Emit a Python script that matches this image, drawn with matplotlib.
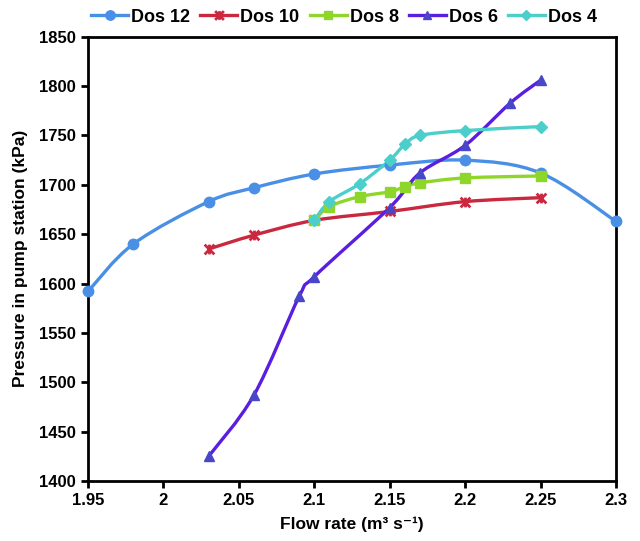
import numpy as np
import matplotlib
matplotlib.use('Agg')
import matplotlib.pyplot as plt
from matplotlib.path import Path
from matplotlib.patches import PathPatch
from matplotlib.lines import Line2D
from matplotlib.ticker import FuncFormatter, MultipleLocator

plt.rcParams['font.family'] = ['Liberation Sans', 'DejaVu Sans']
plt.rcParams['font.weight'] = 'bold'

# data (flow rate m3/s, pressure kPa)
dos12_x = [1.95, 1.98, 2.03, 2.06, 2.10, 2.15, 2.20, 2.25, 2.30]
dos12_y = [1592, 1640, 1683, 1697, 1711, 1720, 1725, 1712, 1663]

dos10_x = [2.03, 2.06, 2.10, 2.15, 2.20, 2.25]
dos10_y = [1635, 1649, 1664, 1673, 1683, 1687]

dos8_x = [2.10, 2.11, 2.13, 2.15, 2.16, 2.17, 2.20, 2.25]
dos8_y = [1664, 1678, 1688, 1693, 1698, 1702, 1707, 1709]

dos6_x = [2.03, 2.06, 2.09, 2.10, 2.15, 2.17, 2.20, 2.23, 2.25]
dos6_y = [1425, 1487, 1587, 1607, 1677, 1712, 1740, 1783, 1806]

dos4_x = [2.10, 2.11, 2.13, 2.15, 2.16, 2.17, 2.20, 2.25]
dos4_y = [1664, 1683, 1701, 1725, 1741, 1750, 1755, 1759]

# excel style star marker: an x with a vertical bar through it
star = Path([(-1, -1), (1, 1), (-1, 1), (1, -1), (0, -1), (0, 1)],
            [Path.MOVETO, Path.LINETO, Path.MOVETO, Path.LINETO,
             Path.MOVETO, Path.LINETO])

series = [
    ('Dos 12', dos12_x, dos12_y, '#4a8fe6', '#4a8fe6', 'o', 7.5),
    ('Dos 10', dos10_x, dos10_y, '#c9283e', '#c9283e', star, 7),
    ('Dos 8', dos8_x, dos8_y, '#8fd62a', '#8fd62a', 's', 7),
    ('Dos 6', dos6_x, dos6_y, '#5a1ee0', '#4a46c8', '^', 7),
    ('Dos 4', dos4_x, dos4_y, '#4ccfcb', '#4ccfcb', 'D', 6),
]


def smooth_path(xs, ys):
    # Excel-like smoothed line drawn as cubic bezier segments
    p = np.column_stack([xs, ys]).astype(float)
    n = len(p)
    verts = [p[0]]
    codes = [Path.MOVETO]
    for i in range(n - 1):
        p0 = p[i - 1] if i > 0 else p[i]
        p3 = p[i + 2] if i + 2 < n else p[i + 1]
        c1 = p[i] + (p[i + 1] - p0) / 6.0
        c2 = p[i + 1] - (p3 - p[i]) / 6.0
        verts += [c1, c2, p[i + 1]]
        codes += [Path.CURVE4] * 3
    return Path(verts, codes)


fig = plt.figure(figsize=(6.4, 5.41), dpi=100)
ax = fig.add_axes([0.1375, 0.111, 0.825, 0.821])

handles = []
for name, xs, ys, lc, mc, mk, ms in series:
    ax.add_patch(PathPatch(smooth_path(xs, ys), facecolor='none',
                           edgecolor=lc, lw=2.4, capstyle='round', zorder=2))
    mew = 2.0 if mk is star else 1.0
    ax.plot(xs, ys, linestyle='none', marker=mk, ms=ms, color=mc,
            mec=mc, mew=mew, zorder=3, clip_on=False)
    handles.append(Line2D([], [], color=lc, lw=2.4, marker=mk, ms=ms * 0.9,
                          mfc=mc, mec=mc, mew=mew))

ax.set_xlim(1.95, 2.3)
ax.set_ylim(1400, 1850)
ax.xaxis.set_major_locator(MultipleLocator(0.05))
ax.yaxis.set_major_locator(MultipleLocator(50))
ax.xaxis.set_major_formatter(FuncFormatter(lambda v, p: '%g' % round(v, 2)))

for s in ax.spines.values():
    s.set_linewidth(2)
ax.tick_params(direction='out', length=5, width=2, labelsize=12, pad=4)
for lab in ax.get_xticklabels() + ax.get_yticklabels():
    lab.set_fontweight('bold')

ax.set_xlabel('Flow rate (m³ s⁻¹)', fontsize=12.5, fontweight='bold', labelpad=6)
ax.set_ylabel('Pressure in pump station (kPa)', fontsize=12.5, fontweight='bold', labelpad=8)

fig.legend(handles, [s[0] for s in series], loc='center',
           bbox_to_anchor=(0.5375, 1 - 17 / 541), ncol=5, frameon=False,
           handlelength=2.05, handletextpad=0.17, columnspacing=0.55,
           prop={'weight': 'bold', 'size': 13})

fig.savefig('out.png', dpi=100)
